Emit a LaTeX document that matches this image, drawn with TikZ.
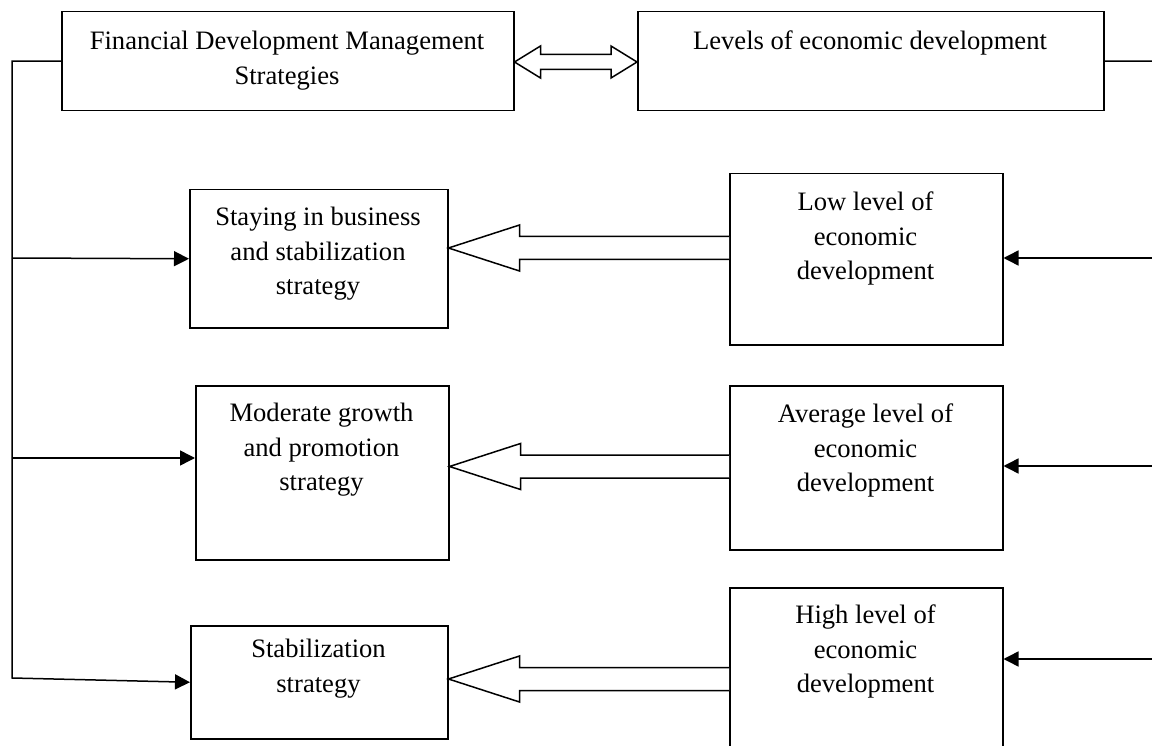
\documentclass[tikz,border=0pt]{standalone}
\usepackage{fontspec}
\setmainfont{Liberation Serif}
\usetikzlibrary{calc,arrows.meta}
\newcommand\hollowarr[2]{%
  \draw[hollow] ($#2+(0,-11.5)$) -- ($#1+(71,-11.5)$) -- ($#1+(71,-23)$) -- #1
    -- ($#1+(71,23)$) -- ($#1+(71,11.5)$) -- ($#2+(0,11.5)$);}
\begin{document}
\begin{tikzpicture}[x=1pt,y=-1pt,
  box/.style={draw, line width=1.5pt, inner sep=0pt, anchor=north west},
  lbl/.style={font=\fontsize{26.6}{34.5}\selectfont, align=center, anchor=north, inner sep=0pt},
  conn/.style={line width=1.5pt},
  tri/.style={conn, -{Triangle[length=15pt,width=15pt]}},
  hollow/.style={line width=1.5pt, line join=miter, fill=white}]
\useasboundingbox (0,0) rectangle (1152,746);
% boxes
\node[box, minimum width=452pt, minimum height=99pt] (fdm) at (61,11) {};
\node[box, minimum width=466pt, minimum height=99pt] (lev) at (637,11) {};
\node[box, minimum width=258pt, minimum height=138pt] (stay) at (189,189) {};
\node[box, minimum width=273pt, minimum height=171pt] (low) at (729,173) {};
\node[box, minimum width=253pt, minimum height=174pt] (mod) at (195,385) {};
\node[box, minimum width=273pt, minimum height=164pt] (avg) at (729,385) {};
\node[box, minimum width=273pt, minimum height=185pt] (high) at (729,587) {};
\node[box, minimum width=257pt, minimum height=113pt] (stab) at (190,625) {};
% labels
\node[lbl] (tfdm) at (287,31) {Financial Development Management\\Strategies};
\node[lbl] (tlev) at (870,31) {Levels of economic development};
\node[lbl] (tstay) at (318,207) {Staying in business\\and stabilization\\strategy};
\node[lbl] (tlow) at (865.5,192) {Low level of\\economic\\development};
\node[lbl] (tmod) at (321.5,403) {Moderate growth\\and promotion\\strategy};
\node[lbl] (tavg) at (865.5,404) {Average level of\\economic\\development};
\node[lbl] (thigh) at (865.5,605) {High level of\\economic\\development};
\node[lbl] (tstab) at (318.5,639) {Stabilization\\strategy};
% top double arrow
\coordinate (t) at (0,62);
\coordinate (tl) at (fdm.east |- t);
\coordinate (tr) at (lev.west |- t);
\draw[hollow] (tl) -- ($(tl)+(26,-16)$) -- ($(tl)+(26,-7.5)$) -- ($(tr)+(-26,-7.5)$)
  -- ($(tr)+(-26,-16)$) -- (tr) -- ($(tr)+(-26,16)$) -- ($(tr)+(-26,7.5)$)
  -- ($(tl)+(26,7.5)$) -- ($(tl)+(26,16)$) -- cycle;
% hollow arrows
\coordinate (y1) at (0,248);
\coordinate (y2) at (0,466.5);
\coordinate (y3) at (0,679);
\hollowarr{(stay.east |- y1)}{(low.west |- y1)}
\hollowarr{(mod.east |- y2)}{(avg.west |- y2)}
\hollowarr{(stab.east |- y3)}{(high.west |- y3)}
% left connector
\coordinate (lb) at (12,678);
\coordinate (l1) at (12,258);
\coordinate (l2) at (12,458);
\draw[tri] (fdm.west) -| (lb) -- (stab.west);
\draw[tri] (l1) -- (stay.west);
\draw[tri] (l2) -- (mod.west |- l2);
% right connector
\coordinate (r0) at (1153,61);
\coordinate (r1) at (1153,258);
\coordinate (r2) at (1153,466);
\coordinate (r3) at (1153,659);
\draw[conn] (lev.east) -- (r0);
\draw[tri] (r1) -- (low.east |- r1);
\draw[tri] (r2) -- (avg.east |- r2);
\draw[tri] (r3) -- (high.east |- r3);
\end{tikzpicture}
\end{document}
